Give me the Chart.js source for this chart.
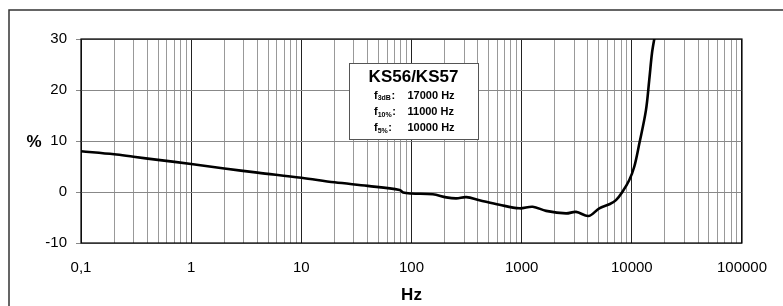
<!DOCTYPE html>
<html>
<head>
<meta charset="utf-8">
<script src="https://cdn.jsdelivr.net/npm/chart.js@4"></script>
<style>
html,body{margin:0;padding:0;background:#fff}
#wrap{width:783px;height:306px;position:relative}
</style>
</head>
<body>
<div id="wrap"><canvas id="chart"></canvas></div>
<script>
// frequency response KS56/KS57
const freqs = [0.1, 0.2, 0.3, 0.5, 1, 2, 4, 10, 20, 40, 78, 84, 100, 156, 207, 255, 314, 414, 629, 955,
  1260, 1667, 2530, 3118, 4060, 5070, 6250, 7180, 8250, 9490, 10540, 11700, 13430, 14400, 15240, 16000, 17000]
const percent = [8.0, 7.4, 6.9, 6.3, 5.5, 4.6, 3.8, 2.8, 1.9, 1.2, 0.4, -0.1, -0.3, -0.45, -1.05, -1.25, -1.0, -1.6, -2.5, -3.2,
  -2.9, -3.7, -4.2, -3.9, -4.7, -3.2, -2.4, -1.6, 0.1, 2.35, 5.0, 9.5, 16, 22, 27.2, 30, 33]
const xLabels = {0.1: '0,1', 1: '1', 10: '10', 100: '100', 1000: '1000', 10000: '10000', 100000: '100000'}
const yTicks = [-10, 0, 10, 20, 30]
const boxTitle = 'KS56/KS57'
const boxRows = [['f', '3dB', '17000 Hz'], ['f', '10%', '11000 Hz'], ['f', '5%', '10000 Hz']]

const FONT = '"Liberation Sans", Arial, sans-serif'

let points = freqs.map((f, i) => ({x: f, y: percent[i]}))

function isDecade(v) {
  let l = Math.log10(v)
  return Math.abs(l - Math.round(l)) < 1e-6
}

const decorations = {
  id: 'decorations',
  afterDraw(chart) {
    const c = chart.ctx
    const a = chart.chartArea
    c.save()
    // outer frame
    c.strokeStyle = '#333'
    c.lineWidth = 1.5
    c.strokeRect(9, 10, 790, 320)
    // plot border
    c.strokeStyle = '#000'
    c.lineWidth = 1.2
    c.strokeRect(a.left, a.top, a.right - a.left, a.bottom - a.top)
    // % label
    c.fillStyle = '#000'
    c.font = 'bold 17px ' + FONT
    c.textAlign = 'center'
    c.textBaseline = 'middle'
    c.fillText('%', 34, 142)
    // info box
    c.fillStyle = '#fff'
    c.fillRect(349.5, 63.5, 129, 76)
    c.strokeStyle = '#555'
    c.lineWidth = 1
    c.strokeRect(349.5, 63.5, 129, 76)
    c.fillStyle = '#000'
    c.font = 'bold 17px ' + FONT
    c.fillText(boxTitle, 413.5, 77.5)
    c.textAlign = 'left'
    boxRows.forEach((r, i) => {
      let y = 95.5 + i * 16.2
      c.font = 'bold 11px ' + FONT
      c.fillText(r[0], 374, y)
      let w = c.measureText(r[0]).width
      c.font = 'bold 7px ' + FONT
      c.fillText(r[1], 374 + w, y + 3)
      let w2 = c.measureText(r[1]).width
      c.font = 'bold 11px ' + FONT
      c.fillText(':', 374 + w + w2 + 0.5, y)
      c.fillText(r[2], 407.5, y)
    })
    c.restore()
  }
}

new Chart(document.getElementById('chart'), {
  type: 'line',
  data: {
    datasets: [{
      data: points,
      borderColor: '#000',
      borderWidth: 2.6,
      pointRadius: 0,
      tension: 0.35,
      fill: false
    }]
  },
  options: {
    responsive: true,
    maintainAspectRatio: false,
    animation: false,
    events: [],
    layout: {padding: {left: 0, right: 40, top: 39, bottom: 0}},
    plugins: {legend: {display: false}, tooltip: {enabled: false}},
    scales: {
      x: {
        type: 'logarithmic',
        min: 0.1,
        max: 100000,
        afterBuildTicks(scale) {
          let t = []
          for (let d = 0.1; d < 100000; d *= 10) {
            for (let k = 1; k <= 9; k++) t.push({value: +(d * k).toPrecision(6)})
          }
          t.push({value: 100000})
          scale.ticks = t
        },
        afterFit(scale) { scale.height = 63 },
        border: {display: false},
        grid: {
          drawTicks: false,
          lineWidth: 1,
          color: ctx => isDecade(ctx.tick.value) ? '#222' : '#999'
        },
        ticks: {
          autoSkip: false,
          maxRotation: 0,
          padding: 16,
          color: '#000',
          font: {family: FONT, size: 15},
          callback: v => xLabels[v] !== undefined ? xLabels[v] : (isDecade(v) ? xLabels[+v.toPrecision(6)] || '' : '')
        },
        title: {
          display: true,
          text: 'Hz',
          color: '#000',
          font: {family: FONT, size: 17, weight: 'bold'},
          padding: {top: 1, bottom: 0}
        }
      },
      y: {
        min: -10,
        max: 30,
        afterBuildTicks(scale) { scale.ticks = yTicks.map(v => ({value: v})) },
        afterFit(scale) { scale.width = 81 },
        border: {display: false},
        grid: {color: '#888', lineWidth: 1, tickLength: 5},
        ticks: {
          padding: 9,
          color: '#000',
          font: {family: FONT, size: 15}
        }
      }
    }
  },
  plugins: [decorations]
})
</script>
</body>
</html>
